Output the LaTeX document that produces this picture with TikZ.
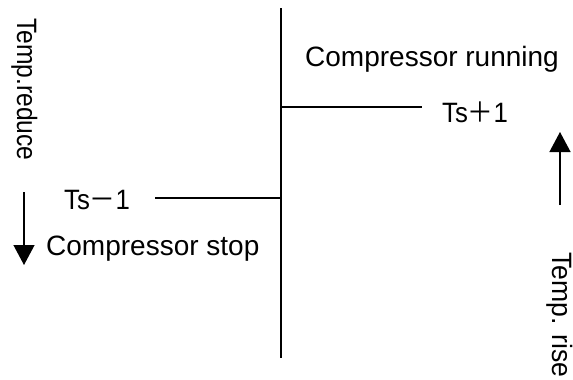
\documentclass[tikz,border=0pt]{standalone}
\usepackage{fontspec}
\setmainfont{Liberation Sans}
\newfontfamily\cjk{Noto Sans CJK SC}
\usetikzlibrary{arrows.meta}
\begin{document}
\begin{tikzpicture}[x=1pt,y=-1pt,
  lbl/.style={inner sep=0pt,anchor=base west,font=\fontsize{28}{32}\selectfont},
  ln/.style={line width=1.3pt},
  arr/.style={line width=1.3pt,-{Triangle[length=20pt,width=21pt]}}]
\useasboundingbox (0,0) rectangle (573,380);
\coordinate (vt) at (281,8);
\coordinate (vb) at (281,358);
\draw[ln] (vt) -- (vb);
\coordinate (uh1) at (281,107);
\coordinate (uh2) at (422,107);
\draw[ln] (uh1) -- (uh2);
\coordinate (lh1) at (155,198);
\coordinate (lh2) at (281,198);
\draw[ln] (lh1) -- (lh2);
\node[lbl] (run) at (305,66) {Compressor running};
\node[lbl] (tsp) at (442,122) {\scalebox{0.92}[1]{Ts{\cjk ＋}1}};
\node[lbl] (tsm) at (64,209) {\scalebox{0.92}[1]{Ts{\cjk －}1}};
\node[lbl] (stop) at (46,255) {Compressor stop};
\coordinate (da1) at (24,192);
\coordinate (da2) at (24,265);
\draw[arr] (da1) -- (da2);
\coordinate (ua1) at (560,205);
\coordinate (ua2) at (560,132);
\draw[arr] (ua1) -- (ua2);
\node[lbl,rotate=-90] (red) at (17,18) {\scalebox{0.88}[1]{Temp.reduce}};
\node[lbl,rotate=-90] (rise) at (552,252) {\scalebox{0.95}[1]{Temp. rise}};
\end{tikzpicture}
\end{document}
